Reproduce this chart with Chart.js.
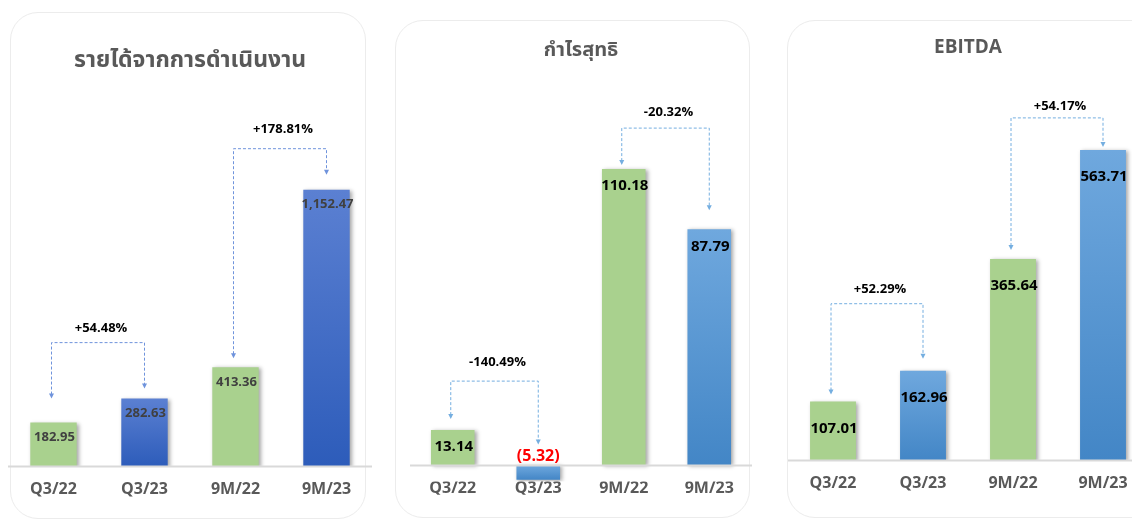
<!DOCTYPE html>
<html>
<head>
<meta charset="utf-8">
<script src="https://cdn.jsdelivr.net/npm/chart.js@4.4.0/dist/chart.umd.min.js"></script>
<style>
  html, body { margin: 0; padding: 0; background: #fff; }
  body { width: 1132px; height: 520px; position: relative; overflow: hidden; }
  .panel { position: absolute; border: 1px solid #ececec; border-radius: 28px; box-sizing: border-box; }
  .box { position: absolute; top: 0; height: 520px; }
</style>
</head>
<body>
<div class="panel" style="left:10px;top:12px;width:356px;height:507px"></div>
<div class="panel" style="left:395px;top:20px;width:355px;height:498px"></div>
<div class="panel" style="left:787px;top:20px;width:420px;height:498px"></div>
<div class="box" style="left:0;width:380px"><canvas id="revenue"></canvas></div>
<div class="box" style="left:380px;width:380px"><canvas id="profit"></canvas></div>
<div class="box" style="left:760px;width:400px"><canvas id="ebitda"></canvas></div>
<script>
// ข้อมูล (ล้านบาท)
const categories = ['Q3/22', 'Q3/23', '9M/22', '9M/23'];
const revenueValues = [182.95, 282.63, 413.36, 1152.47];
const profitValues = [13.14, -5.32, 110.18, 87.79];
const ebitdaValues = [107.01, 162.96, 365.64, 563.71];
const revenueChanges = ['+54.48%', '+178.81%'];
const profitChanges = ['-140.49%', '-20.32%'];
const ebitdaChanges = ['+52.29%', '+54.17%'];
const changePairs = [[0, 1], [2, 3]];

const FONT = "'Open Sans', 'Noto Sans Thai', Tahoma, sans-serif";
const GREEN = '#a9d18e';

function fmt(v) {
    const s = Math.abs(v).toLocaleString('en-US', { minimumFractionDigits: 2, maximumFractionDigits: 2 });
    return v < 0 ? '(' + s + ')' : s;
}

// วาดเงา, เส้นฐาน, ตัวเลข และลูกศรเปอร์เซ็นต์
const extras = {
    id: 'extras',
    beforeDatasetDraw(chart) {
        const ctx = chart.ctx;
        ctx.save();
        ctx.shadowColor = 'rgba(0,0,0,0.35)';
        ctx.shadowBlur = 4;
        ctx.shadowOffsetX = 2;
        ctx.shadowOffsetY = 1;
    },
    afterDatasetDraw(chart) {
        chart.ctx.restore();
    },
    afterDatasetsDraw(chart, args, opts) {
        const ctx = chart.ctx;
        const area = chart.chartArea;
        const y0 = chart.scales.y.getPixelForValue(0);
        const bars = chart.getDatasetMeta(0).data;
        const values = chart.data.datasets[0].data;

        ctx.save();
        ctx.strokeStyle = '#d9d9d9';
        ctx.lineWidth = 2;
        ctx.beginPath();
        ctx.moveTo(area.left, y0);
        ctx.lineTo(area.right, y0);
        ctx.stroke();

        // ตัวเลขบนแท่ง
        ctx.textAlign = 'center';
        ctx.textBaseline = 'middle';
        bars.forEach((bar, i) => {
            const v = values[i];
            if (v < 0) {
                ctx.fillStyle = '#ff0000';
                ctx.font = 'bold 16px ' + FONT;
                ctx.fillText(fmt(v), bar.x, bar.base - 9);
            } else {
                ctx.fillStyle = opts.labelColor;
                ctx.font = 'bold ' + opts.labelSize + 'px ' + FONT;
                ctx.fillText(fmt(v), bar.x + 1, bar.y + opts.labelOffset);
            }
        });

        // วงเล็บเส้นประ
        opts.pairs.forEach((pair, k) => {
            const a = bars[pair[0]], b = bars[pair[1]];
            const topA = Math.min(a.y, a.base), topB = Math.min(b.y, b.base);
            const lay = opts.layout[k];
            const yB = Math.min(topA, topB) - lay.rise;
            const tipA = topA - lay.gapA, tipB = topB - lay.gapB;
            ctx.strokeStyle = opts.dashColor;
            ctx.fillStyle = opts.dashColor;
            ctx.lineWidth = 1;
            ctx.setLineDash([3, 2]);
            ctx.beginPath();
            ctx.moveTo(a.x - 2, tipA - 4);
            ctx.lineTo(a.x - 2, yB);
            ctx.lineTo(b.x, yB);
            ctx.lineTo(b.x, tipB - 4);
            ctx.stroke();
            ctx.setLineDash([]);
            [[a.x - 2, tipA], [b.x, tipB]].forEach(([x, y]) => {
                ctx.beginPath();
                ctx.moveTo(x - 2.5, y - 5);
                ctx.lineTo(x + 2.5, y - 5);
                ctx.lineTo(x, y);
                ctx.closePath();
                ctx.fill();
            });
            ctx.fillStyle = '#000';
            ctx.font = 'bold 13px ' + FONT;
            ctx.fillText(opts.changes[k], (a.x + b.x) / 2 + 2, yB - lay.textUp);
        });
        ctx.restore();
    }
};

function makeChart(id, cfg) {
    const ctx = document.getElementById(id).getContext('2d');
    return new Chart(ctx, {
        type: 'bar',
        data: {
            labels: categories,
            datasets: [{
                data: cfg.values,
                backgroundColor: (c) => {
                    if (c.dataIndex % 2 === 0) return GREEN;
                    const chart = c.chart;
                    if (!chart.chartArea || !chart.scales.y) return cfg.blue[1];
                    const sy = chart.scales.y;
                    const v = cfg.values[c.dataIndex];
                    const yTop = sy.getPixelForValue(Math.max(v, 0));
                    const yBot = sy.getPixelForValue(Math.min(v, 0));
                    const g = chart.ctx.createLinearGradient(0, yTop, 0, yBot);
                    g.addColorStop(0, cfg.blue[0]);
                    g.addColorStop(1, cfg.blue[1]);
                    return g;
                },
                borderWidth: 0,
                categoryPercentage: 1,
                barPercentage: 0.51
            }]
        },
        options: {
            responsive: true,
            maintainAspectRatio: false,
            animation: false,
            layout: { padding: cfg.padding },
            plugins: {
                legend: { display: false },
                tooltip: { enabled: false },
                title: {
                    display: true,
                    text: cfg.title,
                    color: '#595959',
                    font: { family: FONT, size: cfg.titleSize, weight: 'bold' },
                    padding: cfg.titlePad
                },
                extras: {
                    pairs: changePairs,
                    changes: cfg.changes,
                    layout: cfg.bracket,
                    dashColor: cfg.dashColor,
                    labelColor: cfg.labelColor,
                    labelSize: cfg.labelSize,
                    labelOffset: cfg.labelOffset
                }
            },
            scales: {
                x: {
                    grid: { display: false, drawTicks: false },
                    border: { display: false },
                    ticks: {
                        color: '#595959',
                        padding: cfg.tickPad,
                        font: { family: FONT, size: 16, weight: 'bold' }
                    }
                },
                y: {
                    display: false,
                    min: cfg.yMin,
                    max: cfg.yMax
                }
            }
        },
        plugins: [extras]
    });
}

makeChart('revenue', {
    title: 'รายได้จากการดำเนินงาน',
    values: revenueValues,
    changes: revenueChanges,
    blue: ['#5b80d2', '#2d5cba'],
    dashColor: '#6f93dc',
    labelColor: '#404040',
    labelSize: 13,
    labelOffset: 15,
    titleSize: 23,
    titlePad: { top: 47, bottom: 10 },
    padding: { left: 8, right: 8, top: 0, bottom: 8.3 },
    tickPad: 13,
    yMin: 0,
    yMax: 1590,
    bracket: [
        { rise: 56, gapA: 24, gapB: 10, textUp: 14 },
        { rise: 41, gapA: 9, gapB: 15, textUp: 19 }
    ]
});

makeChart('profit', {
    title: 'กำไรสุทธิ',
    values: profitValues,
    changes: profitChanges,
    blue: ['#6fa8de', '#4386c6'],
    dashColor: '#74aee0',
    labelColor: '#000000',
    labelSize: 15,
    labelOffset: 17,
    titleSize: 20,
    titlePad: { top: 38, bottom: 0 },
    padding: { left: 30, right: 8, top: 0, bottom: 25.2 },
    tickPad: -3,
    yMin: -6,
    yMax: 150,
    bracket: [
        { rise: 49, gapA: 11, gapB: 21, textUp: 19 },
        { rise: 41, gapA: 4, gapB: 19, textUp: 16 }
    ]
});

makeChart('ebitda', {
    title: 'EBITDA',
    values: ebitdaValues,
    changes: ebitdaChanges,
    blue: ['#6fa8de', '#4386c6'],
    dashColor: '#74aee0',
    labelColor: '#000000',
    labelSize: 15,
    labelOffset: 27,
    titleSize: 19,
    titlePad: { top: 36, bottom: 16 },
    padding: { left: 28, right: 12, top: 0, bottom: 14.3 },
    tickPad: 13,
    yMin: 0,
    yMax: 700,
    bracket: [
        { rise: 67, gapA: 7, gapB: 12, textUp: 14 },
        { rise: 32, gapA: 9, gapB: 3, textUp: 12 }
    ]
});
</script>
</body>
</html>
